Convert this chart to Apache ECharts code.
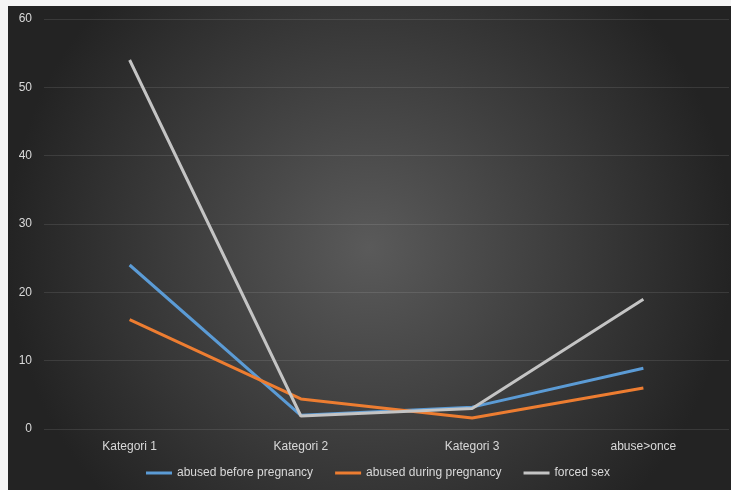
<!DOCTYPE html>
<html><head><meta charset="utf-8">
<script src="https://cdn.jsdelivr.net/npm/echarts@6/dist/echarts.min.js"></script>
<style>
html,body{margin:0;padding:0;background:#f4f4f4;width:731px;height:490px;overflow:hidden;}
#c{position:absolute;left:8px;top:6px;width:723px;height:484px;}
</style></head><body>
<div id="c"></div>
<script>
const categories = ['Kategori 1','Kategori 2','Kategori 3','abuse>once'];
const seriesNames = ['abused before pregnancy','abused during pregnancy','forced sex'];
const abusedBefore = [24, 2, 3.2, 8.9];
const abusedDuring = [16, 4.4, 1.6, 6];
const forcedSex = [54, 1.9, 3, 19];
const yTicks = [0, 10, 20, 30, 40, 50, 60];

const chart = echarts.init(document.getElementById('c'));
const colors = ['#5b9bd5','#ed7d31','#c4c4c4'];
const data = [abusedBefore, abusedDuring, forcedSex];
chart.setOption({
  animation:false,
  backgroundColor:{type:'radial',x:0.5,y:0.5,r:0.75,colorStops:[{offset:0,color:'#5a5a5a'},{offset:1,color:'#232323'}]},
  color:colors,
  grid:{left:36,right:2,top:13,bottom:61},
  legend:{left:133,bottom:6,itemWidth:26,itemHeight:3,itemGap:22,icon:'rect',
    textStyle:{color:'#d9d9d9',fontSize:12,fontFamily:'Liberation Sans'},
    data:seriesNames},
  xAxis:{type:'category',data:categories,boundaryGap:true,
    axisLine:{show:false},axisTick:{show:false},
    axisLabel:{color:'#d9d9d9',fontSize:12,margin:12,fontFamily:'Liberation Sans'}},
  yAxis:{type:'value',min:yTicks[0],max:yTicks[yTicks.length-1],interval:10,
    axisLine:{show:false},axisTick:{show:false},
    axisLabel:{color:'#d9d9d9',fontSize:12,margin:12,fontFamily:'Liberation Sans'},
    splitLine:{lineStyle:{color:'rgba(255,255,255,0.1)',width:1}}},
  series:seriesNames.map((n,i)=>({name:n,type:'line',data:data[i],symbol:'none',
    lineStyle:{width:3,color:colors[i]},itemStyle:{color:colors[i]}}))
});
</script></body></html>
